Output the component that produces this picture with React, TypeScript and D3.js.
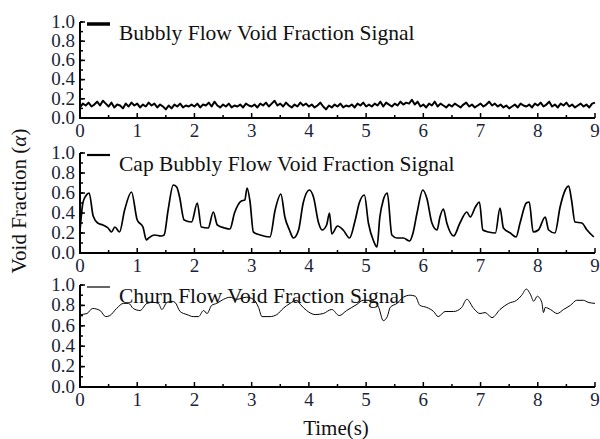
import * as d3 from 'd3';

// time axis shared by the three panels
const xTicks = [0, 1, 2, 3, 4, 5, 6, 7, 8, 9];
const yTicks = [0, 0.2, 0.4, 0.6, 0.8, 1.0];

// bubbly flow, sampled every 0.05 s
const bubblyValues = [
  0.11, 0.15, 0.13, 0.16, 0.12, 0.14, 0.17, 0.13, 0.18, 0.15, 0.12, 0.16, 0.11, 0.14, 0.13, 0.10, 0.15, 0.12, 0.16, 0.13,
  0.15, 0.11, 0.14, 0.12, 0.16, 0.13, 0.15, 0.11, 0.14, 0.12, 0.09, 0.13, 0.10, 0.14, 0.12, 0.15, 0.11, 0.13, 0.12, 0.14,
  0.12, 0.15, 0.11, 0.14, 0.13, 0.16, 0.12, 0.17, 0.13, 0.11, 0.14, 0.12, 0.15, 0.11, 0.13, 0.12, 0.14, 0.11, 0.15, 0.13,
  0.12, 0.14, 0.11, 0.15, 0.13, 0.16, 0.12, 0.15, 0.18, 0.13, 0.15, 0.12, 0.16, 0.13, 0.11, 0.14, 0.12, 0.16, 0.13, 0.15,
  0.12, 0.14, 0.11, 0.13, 0.16, 0.12, 0.09, 0.13, 0.11, 0.14, 0.12, 0.15, 0.11, 0.13, 0.12, 0.14, 0.11, 0.15, 0.13, 0.16,
  0.12, 0.14, 0.12, 0.15, 0.13, 0.17, 0.12, 0.16, 0.14, 0.12, 0.15, 0.13, 0.17, 0.14, 0.16, 0.15, 0.19, 0.14, 0.17, 0.12,
  0.14, 0.11, 0.15, 0.13, 0.17, 0.12, 0.15, 0.13, 0.11, 0.14, 0.12, 0.15, 0.13, 0.11, 0.14, 0.16, 0.12, 0.14, 0.11, 0.13,
  0.15, 0.12, 0.14, 0.17, 0.13, 0.15, 0.12, 0.14, 0.11, 0.13, 0.10, 0.12, 0.14, 0.11, 0.15, 0.13, 0.12, 0.14, 0.11, 0.15,
  0.13, 0.16, 0.12, 0.14, 0.17, 0.12, 0.14, 0.11, 0.15, 0.13, 0.16, 0.12, 0.14, 0.11, 0.13, 0.15, 0.12, 0.14, 0.11, 0.15,
  0.16,
];
const bubblyTimes = bubblyValues.map((_, i) => i * 0.05);

// cap bubbly flow
const capTimes = [
  0, 0.05, 0.1, 0.16, 0.23, 0.31, 0.4, 0.49, 0.55, 0.61, 0.69, 0.78, 0.9, 1.0, 1.1, 1.16, 1.2, 1.3, 1.42, 1.47,
  1.54, 1.63, 1.69, 1.74, 1.82, 1.95, 2.05, 2.12, 2.24, 2.33, 2.4, 2.53, 2.62, 2.7, 2.82, 2.88, 2.92, 2.97, 3.03, 3.15,
  3.32, 3.41, 3.51, 3.58, 3.66, 3.73, 3.82, 3.9, 4.01, 4.08, 4.17, 4.23, 4.31, 4.36, 4.4, 4.5, 4.6, 4.71, 4.81, 4.88,
  4.97, 5.04, 5.13, 5.19, 5.24, 5.3, 5.37, 5.45, 5.54, 5.65, 5.76, 5.82, 5.89, 5.99, 6.06, 6.15, 6.24, 6.29, 6.35, 6.41,
  6.53, 6.64, 6.76, 6.82, 6.91, 6.98, 7.04, 7.14, 7.26, 7.34, 7.4, 7.52, 7.62, 7.69, 7.8, 7.85, 7.92, 8.01, 8.13, 8.19,
  8.3, 8.39, 8.48, 8.54, 8.59, 8.65, 8.77, 8.86, 8.98,
];
const capValues = [
  0.22, 0.5, 0.57, 0.6, 0.37, 0.3, 0.28, 0.25, 0.21, 0.26, 0.21, 0.43, 0.61, 0.33, 0.26, 0.13, 0.15, 0.18, 0.17, 0.18,
  0.43, 0.68, 0.66, 0.56, 0.33, 0.31, 0.5, 0.26, 0.25, 0.41, 0.28, 0.25, 0.24, 0.4, 0.52, 0.53, 0.65, 0.52, 0.21, 0.18,
  0.16, 0.43, 0.59, 0.36, 0.23, 0.15, 0.23, 0.5, 0.63, 0.56, 0.3, 0.23, 0.28, 0.4, 0.19, 0.27, 0.23, 0.15, 0.33, 0.5,
  0.58, 0.3, 0.12, 0.06, 0.36, 0.53, 0.6, 0.18, 0.15, 0.15, 0.12, 0.2, 0.4, 0.63, 0.55, 0.3, 0.23, 0.36, 0.44, 0.3,
  0.17, 0.3, 0.41, 0.36, 0.46, 0.51, 0.23, 0.21, 0.2, 0.45, 0.25, 0.2, 0.16, 0.3, 0.5, 0.51, 0.21, 0.23, 0.36, 0.23,
  0.2, 0.46, 0.63, 0.67, 0.53, 0.31, 0.3, 0.23, 0.16,
];

// churn flow
const churnTimes = [
  0, 0.12, 0.22, 0.35, 0.45, 0.52, 0.64, 0.76, 0.85, 0.93, 1.05, 1.17, 1.28, 1.37, 1.43, 1.52, 1.61, 1.66, 1.75, 1.87,
  1.98, 2.07, 2.16, 2.22, 2.3, 2.39, 2.51, 2.62, 2.74, 2.91, 3.03, 3.12, 3.18, 3.32, 3.44, 3.55, 3.67, 3.79, 3.85, 3.96,
  4.11, 4.25, 4.4, 4.53, 4.66, 4.84, 4.95, 5.1, 5.22, 5.3, 5.37, 5.42, 5.54, 5.65, 5.77, 5.86, 5.94, 6.06, 6.18, 6.26,
  6.38, 6.53, 6.67, 6.76, 6.88, 6.99, 7.08, 7.2, 7.34, 7.49, 7.63, 7.72, 7.8, 7.87, 7.93, 7.99, 8.07, 8.1, 8.13, 8.22,
  8.34, 8.45, 8.57, 8.68, 8.8, 8.88, 9.0,
];
const churnValues = [
  0.71, 0.72, 0.77, 0.75, 0.69, 0.7, 0.77, 0.82, 0.82, 0.77, 0.75, 0.82, 0.83, 0.82, 0.76, 0.83, 0.84, 0.83, 0.74, 0.71,
  0.69, 0.69, 0.75, 0.72, 0.8, 0.82, 0.86, 0.88, 0.86, 0.88, 0.86, 0.78, 0.69, 0.69, 0.71, 0.77, 0.82, 0.85, 0.81, 0.75,
  0.71, 0.72, 0.76, 0.7, 0.75, 0.81, 0.85, 0.85, 0.78, 0.65, 0.69, 0.78, 0.82, 0.88, 0.9, 0.89, 0.8, 0.78, 0.74, 0.69,
  0.74, 0.74, 0.78, 0.86, 0.77, 0.72, 0.73, 0.68, 0.76, 0.82, 0.85, 0.9, 0.96, 0.91, 0.84, 0.89, 0.83, 0.73, 0.78, 0.76,
  0.72, 0.76, 0.8, 0.85, 0.85, 0.83, 0.82,
];

const panels = [
  { label: 'Bubbly Flow Void Fraction Signal', times: bubblyTimes, values: bubblyValues, top: 22, bottom: 118, width: 2, legendWidth: 3.5, curve: d3.curveLinear },
  { label: 'Cap Bubbly Flow Void Fraction Signal', times: capTimes, values: capValues, top: 153, bottom: 253, width: 1.7, legendWidth: 2.2, curve: d3.curveMonotoneX },
  { label: 'Churn Flow Void Fraction Signal', times: churnTimes, values: churnValues, top: 285, bottom: 387, width: 1, legendWidth: 1.2, curve: d3.curveMonotoneX },
];

const FONT = '"Liberation Serif", "Times New Roman", serif';
const TICK_COLOR = '#1c1f3a';

const x = d3.scaleLinear().domain([0, 9]).range([80, 595]);

function Panel({ p }: { p: typeof panels[number] }) {
  const y = d3.scaleLinear().domain([0, 1]).range([p.bottom, p.top]);
  const line = d3.line<number>()
    .x((_, i) => x(p.times[i]))
    .y(d => y(d))
    .curve(p.curve);
  const yMinor = d3.range(0, 1.01, 0.1);
  const xMinor = d3.range(0.5, 9, 1);
  return (
    <g>
      <path d={line(p.values) ?? ''} fill="none" stroke="#000" strokeWidth={p.width} strokeLinejoin="round" />
      {/* axes */}
      <line x1={x(0)} x2={x(0)} y1={y(0)} y2={y(1)} stroke="#000" strokeWidth={2} />
      <line x1={x(0) - 1} x2={x(9)} y1={y(0)} y2={y(0)} stroke="#000" strokeWidth={2} />
      {yMinor.map(v => (
        <line key={'ym' + v} x1={x(0)} x2={x(0) + 3} y1={y(v)} y2={y(v)} stroke="#000" strokeWidth={1.5} />
      ))}
      {yTicks.map(v => (
        <g key={'y' + v}>
          <line x1={x(0)} x2={x(0) + 5} y1={y(v)} y2={y(v)} stroke="#000" strokeWidth={1.5} />
          <text x={x(0) - 5} y={y(v) - 1} dy="0.36em" textAnchor="end" fontSize={19} fill={TICK_COLOR} fontFamily={FONT}>
            {v.toFixed(1)}
          </text>
        </g>
      ))}
      {xMinor.map(v => (
        <line key={'xm' + v} x1={x(v)} x2={x(v)} y1={y(0)} y2={y(0) - 3} stroke="#000" strokeWidth={1.5} />
      ))}
      {xTicks.map(v => (
        <g key={'x' + v}>
          <line x1={x(v)} x2={x(v)} y1={y(0)} y2={y(0) - 5} stroke="#000" strokeWidth={1.5} />
          <text x={x(v)} y={y(0) + 19} textAnchor="middle" fontSize={19} fill={TICK_COLOR} fontFamily={FONT}>
            {v}
          </text>
        </g>
      ))}
      {/* legend */}
      <line x1={87} x2={110} y1={y(1) + 2} y2={y(1) + 2} stroke="#000" strokeWidth={p.legendWidth} />
      <text x={119} y={y(1) + 18} fontSize={21.5} fill="#111" fontFamily={FONT}>{p.label}</text>
    </g>
  );
}

export default function App() {
  return (
    <svg width={600} height={439} style={{ position: 'absolute', left: 0, top: 0, background: '#fff' }}>
      {panels.map(p => <Panel key={p.label} p={p} />)}
      <text transform="translate(26,201) rotate(-90)" textAnchor="middle" fontSize={21} fill="#111" fontFamily={FONT}>
        Void Fraction (<tspan fontStyle="italic">α</tspan>)
      </text>
      <text x={336} y={435} textAnchor="middle" fontSize={21} fill="#111" fontFamily={FONT}>Time(s)</text>
    </svg>
  );
}
